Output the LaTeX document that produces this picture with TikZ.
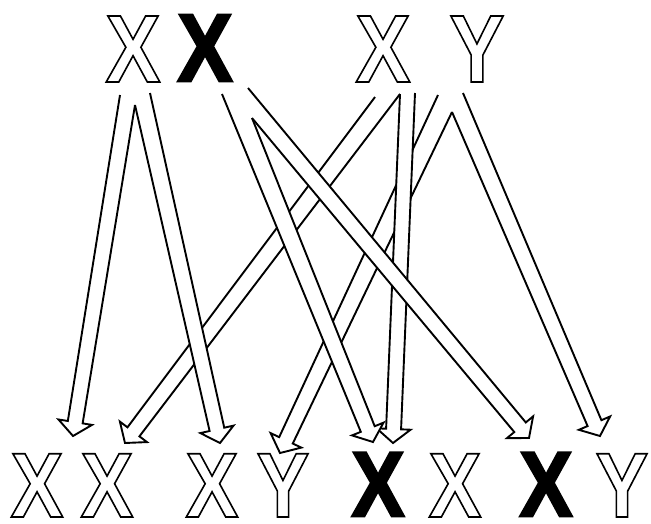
\documentclass[tikz,border=0pt]{standalone}
\usepackage{fontspec}
\setmainfont{Liberation Sans}
\usepackage{tikz}
\usetikzlibrary{calc}

% outlined letter (stroke only) and heavy letter (fill and stroke)
\newcommand{\outl}[1]{\special{pdf:literal direct 1 Tr 1.8 w}#1\special{pdf:literal direct 0 Tr}}
\newcommand{\heavy}[1]{\special{pdf:literal direct 2 Tr 2.6 w}#1\special{pdf:literal direct 0 Tr}}

% hollow arrow: #1 left tail, #2 right tail, #3 tip (tail is left open)
\newcommand{\hollowarrow}[3]{%
	\coordinate (tm) at ($(#1)!0.5!(#2)$);
	\coordinate (hb) at ($(#3)!14pt!(tm)$);
	\filldraw[arrowline] (#2) -- ($(hb)!7.5pt!90:(#3)$) -- ($(hb)!17pt!90:(#3)$) -- (#3)
		-- ($(hb)!17pt!-90:(#3)$) -- ($(hb)!7.5pt!-90:(#3)$) -- (#1);
}

\begin{document}
\begin{tikzpicture}[x=1pt,y=-1pt,
		letter/.style={font=\fontsize{96}{96}\selectfont\bfseries, inner sep=0pt, anchor=base, xscale=0.86},
		small/.style={letter, font=\fontsize{92}{92}\selectfont\bfseries},
		arrowline/.style={draw=black, fill=white, line width=1.9pt, line join=miter}]
		\useasboundingbox (0,0) rectangle (651,523);
		
		% Parents
		\node[letter] (p1) at (133,82) {\outl{X}};
		\node[letter] (p2) at (205,81) {\heavy{X}};
		\node[letter] (p3) at (383,82) {\outl{X}};
		\node[letter] (p4) at (477,82) {\outl{Y}};
		
		% Children
		\node[small] (c1) at (37,517) {\outl{X}};
		\node[small] (c2) at (107,517) {\outl{X}};
		\node[small] (c3) at (212,517) {\outl{X}};
		\node[small] (c4) at (283,517) {\outl{Y}};
		\node[small] (c5) at (378,516) {\heavy{X}};
		\node[small] (c6) at (455,517) {\outl{X}};
		\node[small] (c7) at (546,516) {\heavy{X}};
		\node[small] (c8) at (622,517) {\outl{Y}};
		
		% Tails under the parents
		\coordinate (xa) at (120,95); \coordinate (xb) at (135,105); \coordinate (xc) at (150,93);
		\coordinate (ba) at (222,94); \coordinate (bb) at (252,118); \coordinate (bc) at (248,88);
		\coordinate (ma) at (375,97); \coordinate (mb) at (400,94); \coordinate (mc) at (415,93);
		\coordinate (ya) at (438,95); \coordinate (yb) at (452,112); \coordinate (yc) at (463,93);
		
		% Tips above the children
		\coordinate (k1) at (73,436); \coordinate (k2) at (125,443);
		\coordinate (k3) at (220,443); \coordinate (k4) at (280,453);
		\coordinate (k5) at (373,442); \coordinate (k6) at (393,443);
		\coordinate (k7) at (529,438); \coordinate (k8) at (600,436);
		
		% Arrows, back to front
		\hollowarrow{ma}{mb}{k2}
		\hollowarrow{ya}{yb}{k4}
		\hollowarrow{mb}{mc}{k6}
		\hollowarrow{ba}{bb}{k5}
		\hollowarrow{xb}{xc}{k3}
		\hollowarrow{xa}{xb}{k1}
		\hollowarrow{yb}{yc}{k8}
		\hollowarrow{bb}{bc}{k7}
	\end{tikzpicture}
\end{document}
